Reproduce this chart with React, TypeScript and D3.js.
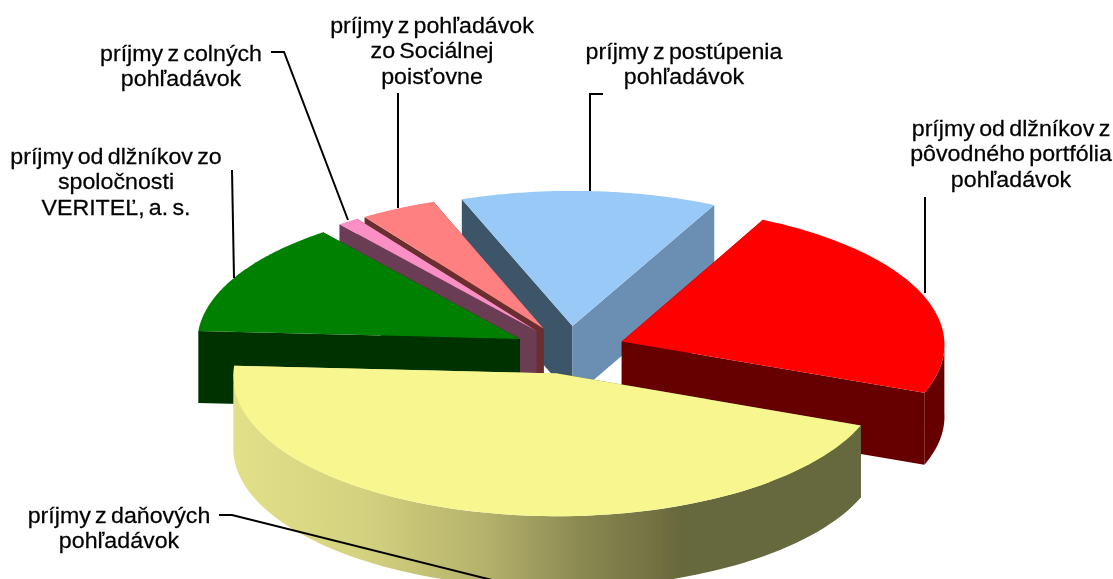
import React from "react";
import * as d3 from "d3";

const categories = [
  "príjmy z postúpenia pohľadávok",
  "príjmy od dlžníkov z pôvodného portfólia pohľadávok",
  "príjmy z daňových pohľadávok",
  "príjmy od dlžníkov zo spoločnosti VERITEĽ, a. s.",
  "príjmy z colných pohľadávok",
  "príjmy z pohľadávok zo Sociálnej poisťovne",
];
const shares = [13.1, 23.6, 44.9, 13.4, 1.1, 3.9];
const topColors = ["#99c9f7", "#ff0000", "#f8f78f", "#008000", "#f98fc5", "#ff8080"];
const startWallColors = ["#3e5469", "#660000", "#66673c", "#003300", "#6b3d55", "#6b2f2f"];
const endWallColors = ["#6b8fb3", "#660000", "#e3e08a", "#003300", "#6b3d55", "#6b2f2f"];
const rimColors = ["#6b8fb3", "#660000", "url(#yellowSide)", "#003300", "#6b3d55", "#6b2f2f"];
const paintOrder = [0, 5, 4, 3, 1, 2];

const labelLines = [
  ["príjmy z postúpenia", "pohľadávok"],
  ["príjmy od dlžníkov z", "pôvodného portfólia", "pohľadávok"],
  ["príjmy z daňových", "pohľadávok"],
  ["príjmy od dlžníkov zo", "spoločnosti", "VERITEĽ, a. s."],
  ["príjmy z colných", "pohľadávok"],
  ["príjmy z pohľadávok", "zo Sociálnej", "poisťovne"],
];
const labelCenters = [[684, 59], [1011, 136], [119, 523], [116, 164], [181, 61], [432, 33]];
const leaders: [number, number][][] = [
  [[603, 94], [590, 94], [590, 191]],
  [[925, 197], [925, 293]],
  [[219, 515], [232, 515], [512, 585]],
  [[232, 170], [234, 278]],
  [[271, 52], [284, 52], [348, 220]],
  [[398, 93], [398, 208]],
];

const W = 1113, H = 579;
const cx = 569.5, cy = 350, R = 323, tilt = 0.43, explode = 56, depth = 72, persp = 0.02;
const rad = (d: number) => (d * Math.PI) / 180;

const pieGen = d3.pie<number>().sort(null).value((d) => d)
  .startAngle(rad(-20.5)).endAngle(rad(339.5));
const arcs = pieGen(shares);

const lineGen = d3.line<[number, number]>();

function slice(i: number) {
  const a = arcs[i];
  const mid = (a.startAngle + a.endAngle) / 2;
  const ex = explode * Math.sin(mid);
  const ey = -explode * Math.cos(mid);
  const project = (gx: number, gy: number, z = 0): [number, number] => {
    const s = 1 + (persp * gy) / R;
    return [cx + gx * s, cy + tilt * gy * s + z];
  };
  const rim = (t: number, z = 0) =>
    project(ex + R * Math.sin(t), ey - R * Math.cos(t), z);
  const apex = (z = 0) => project(ex, ey, z);
  const sweep = (t0: number, t1: number) =>
    d3.range(81).map((k) => t0 + ((t1 - t0) * k) / 80);
  const topD = (lineGen([apex(), ...sweep(a.startAngle, a.endAngle).map((t) => rim(t))]) as string) + "Z";
  const wall = (t: number) =>
    (lineGen([apex(), rim(t), rim(t, depth), apex(depth)]) as string) + "Z";
  const walls = [
    { t: a.startAngle, fill: startWallColors[i] },
    { t: a.endAngle, fill: endWallColors[i] },
  ].sort((p, q) => rim(p.t)[1] - rim(q.t)[1]);
  // only the part of the outer wall that faces the viewer
  const f0 = Math.max(a.startAngle, Math.PI / 2);
  const f1 = Math.min(a.endAngle, (3 * Math.PI) / 2);
  const front = f1 > f0 ? sweep(f0, f1) : null;
  return (
    <g key={i} data-name={categories[i]}>
      {walls.map((w, k) => (
        <path key={k} d={wall(w.t)} fill={w.fill} />
      ))}
      {front && (
        <path
          d={(lineGen([
            ...front.map((t) => rim(t)),
            ...front.map((t) => rim(t, depth)).reverse(),
          ]) as string) + "Z"}
          fill={rimColors[i]}
        />
      )}
      <path d={topD} fill={topColors[i]} />
    </g>
  );
}

export default function App() {
  return (
    <svg width={W} height={H} viewBox={`0 0 ${W} ${H}`}
      style={{ position: "absolute", left: 0, top: 0, background: "#fff" }}>
      <defs>
        <linearGradient id="yellowSide" gradientUnits="userSpaceOnUse" x1="234" x2="860" y1="0" y2="0">
          <stop offset="0" stopColor="#e3e08a" />
          <stop offset="0.2" stopColor="#d5d27f" />
          <stop offset="0.4" stopColor="#b5b26d" />
          <stop offset="0.55" stopColor="#8c8a52" />
          <stop offset="0.72" stopColor="#66673c" />
          <stop offset="1" stopColor="#66673c" />
        </linearGradient>
        <filter id="soft" x="0" y="0" width={W} height={H} filterUnits="userSpaceOnUse">
          <feGaussianBlur stdDeviation={0.45} />
        </filter>
      </defs>
      <g filter="url(#soft)">
        {paintOrder.map((i) => slice(i))}
        {leaders.map((pts, i) => (
          <path key={i} d={lineGen(pts) as string} fill="none" stroke="#000" strokeWidth={2} />
        ))}
        {labelLines.map((lines, i) => (
          <text key={i} textAnchor="middle" fontFamily="'Liberation Sans', Arial, sans-serif"
            fontSize={21.5} fill="#000" stroke="#000" strokeWidth={0.25} wordSpacing={-2}
            transform={`translate(${labelCenters[i][0]},0) scale(1.08,1)`}>
            {lines.map((l, k) => (
              <tspan key={k} x={0} y={labelCenters[i][1] + k * 25.5}>{l}</tspan>
            ))}
          </text>
        ))}
      </g>
    </svg>
  );
}
